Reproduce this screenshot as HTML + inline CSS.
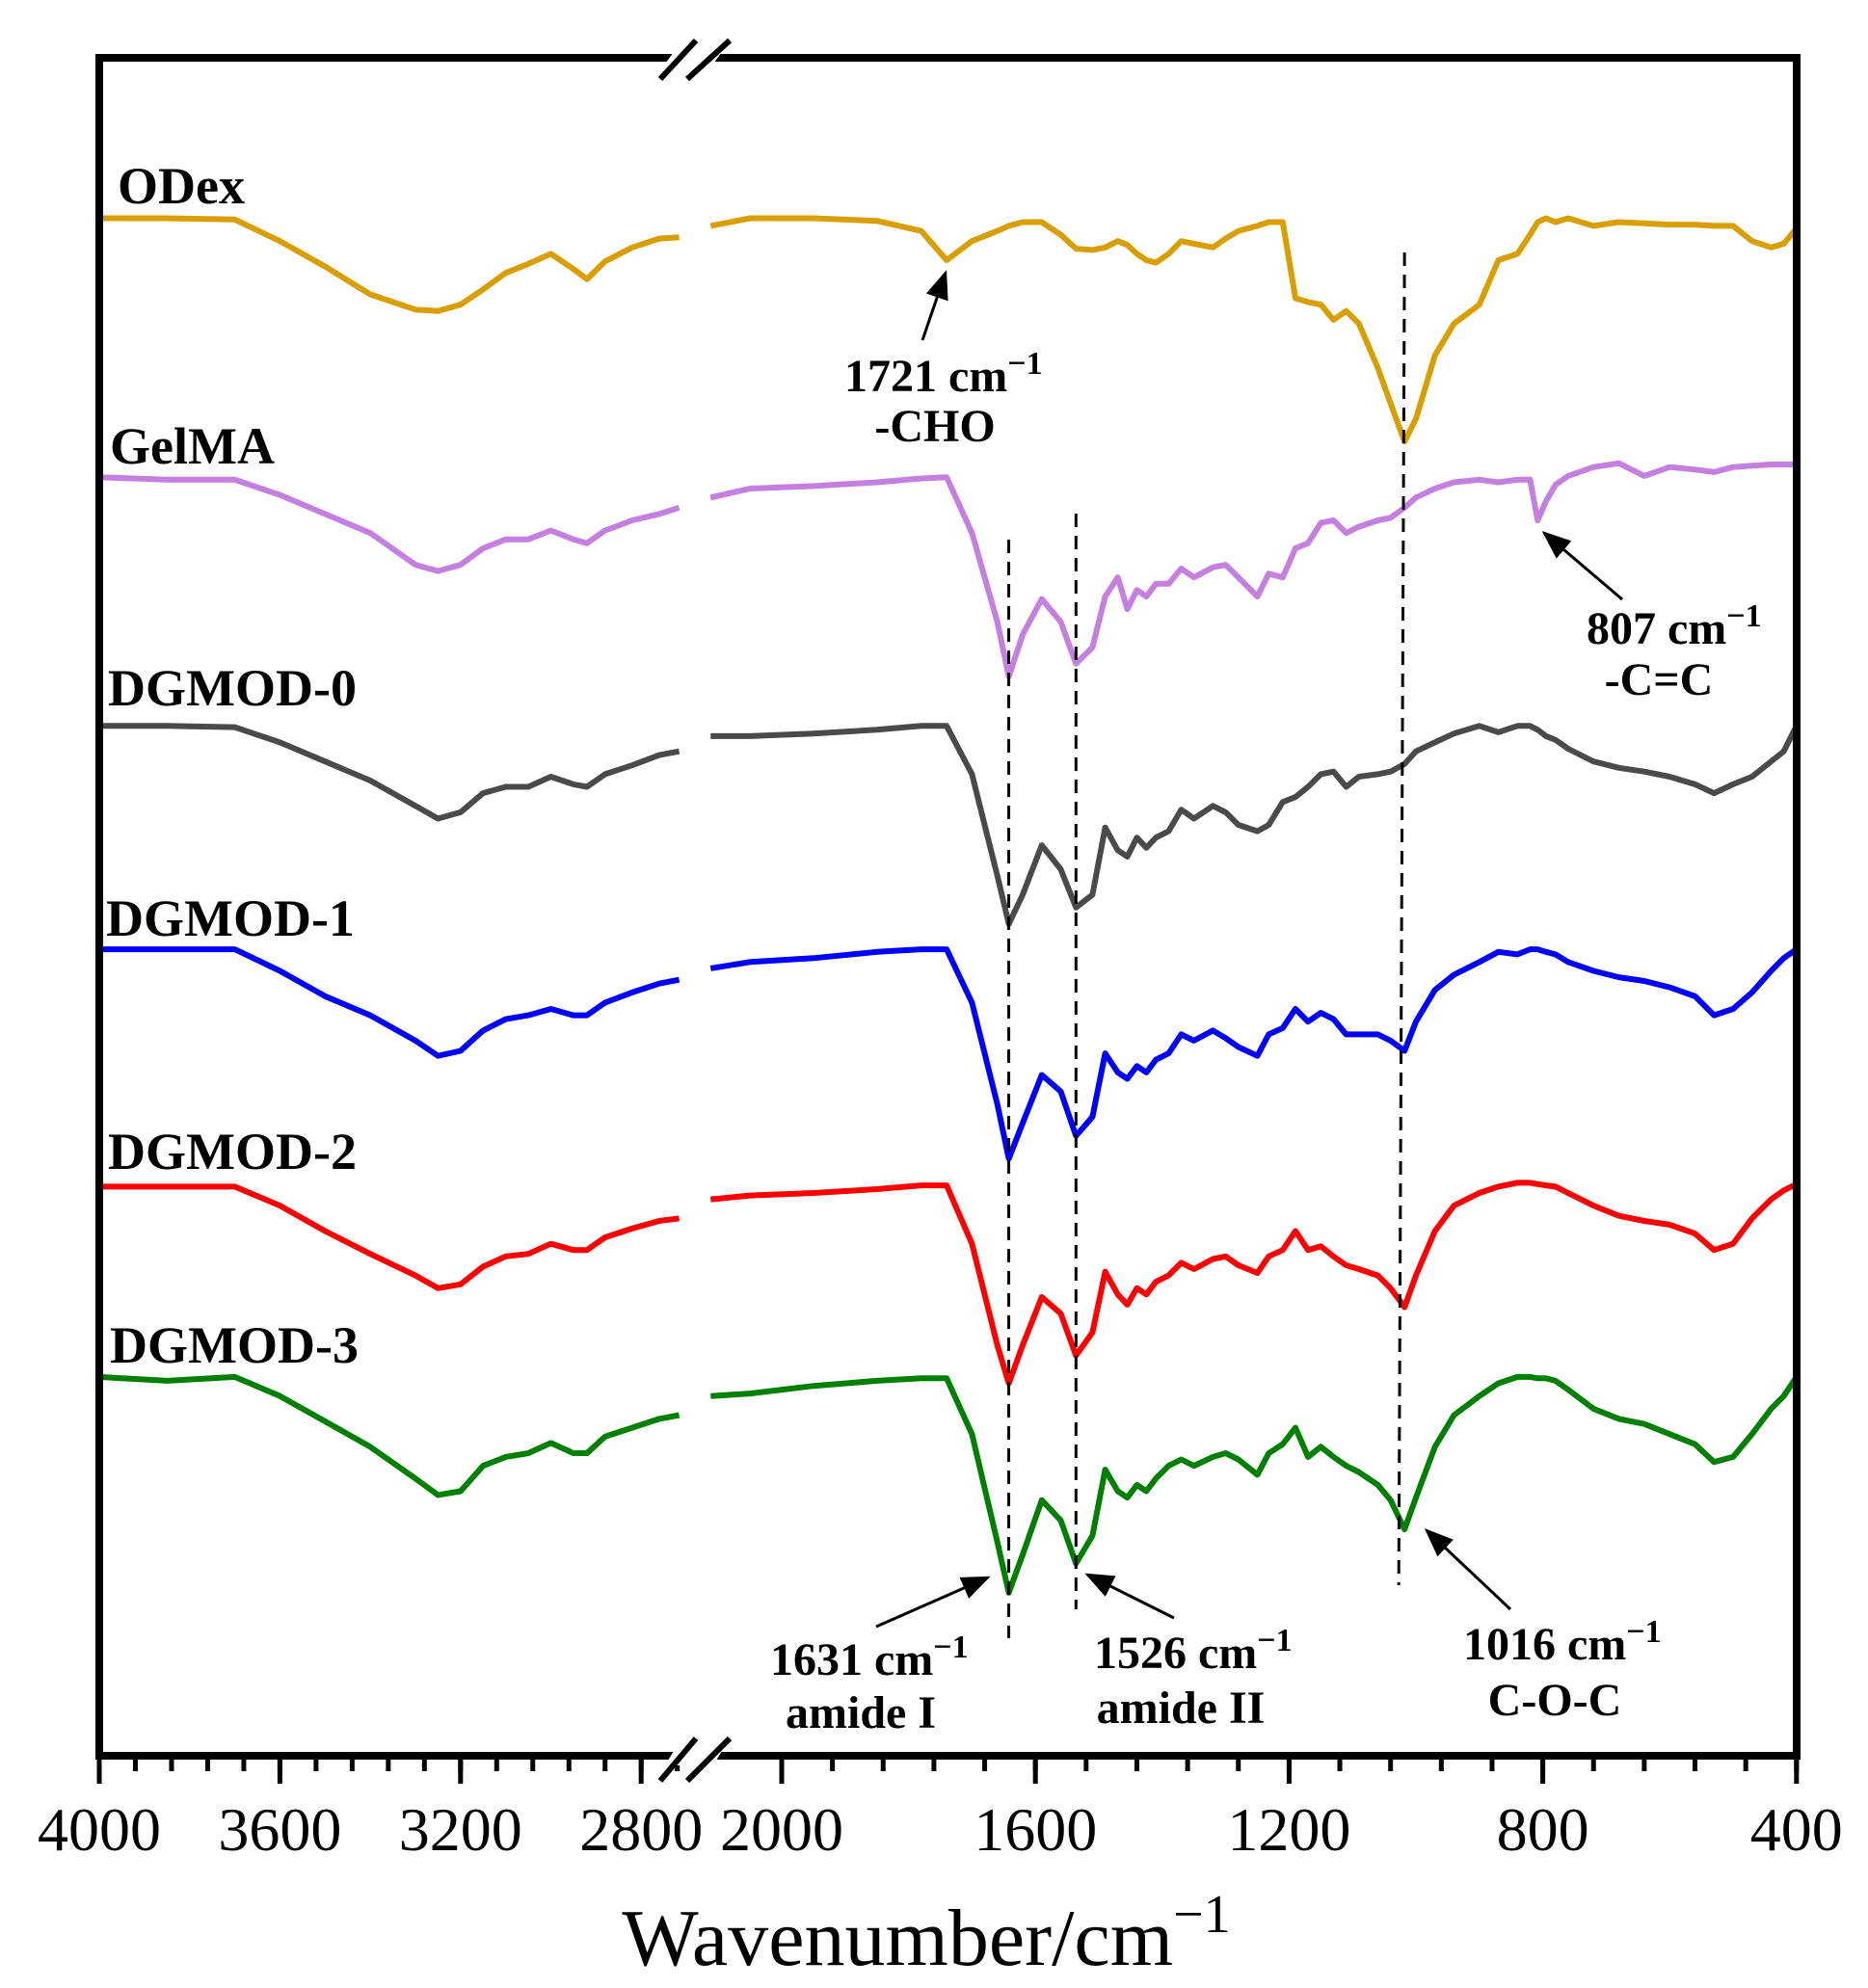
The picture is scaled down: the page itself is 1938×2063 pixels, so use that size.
<!DOCTYPE html>
<html><head><meta charset="utf-8"><style>
html,body{margin:0;padding:0;background:#fff}
svg{display:block}
text{font-family:"Liberation Serif",serif}
</style></head><body>
<svg id="chart" width="1938" height="2063" viewBox="0 0 1938 2063" xmlns="http://www.w3.org/2000/svg">
<g id="plot"></g>
<g id="frame"></g>
<g id="annot"></g>
</svg>
<script>
const leftWn = [4000,3850,3700,3600,3500,3400,3300,3250,3200,3150,3100,3050,3000,2950,2920,2880,2820,2760,2716];
const rightWn = [2112,2050,1950,1850,1780,1740,1700,1660,1642,1620,1590,1560,1536,1510,1490,1470,1455,1440,1425,1410,1390,1370,1350,1320,1300,1280,1250,1232,1210,1190,1170,1150,1130,1110,1090,1060,1040,1018,1000,970,940,900,870,840,820,808,795,780,760,720,680,640,600,560,530,500,470,440,420,400];
const seriesNames = ["ODex","GelMA","DGMOD-0","DGMOD-1","DGMOD-2","DGMOD-3"];
const seriesColors = ["#d99e00","#c47fe0","#4a4a4a","#0000ff","#ff0000","#008000"];
// offset transmittance (a.u., downward)
const odexL = [172,172,173,190,210,232,244,245,240,228,215,208,200,212,220,206,195,188,187];
const odexR = [178,172,172,174,182,205,190,182,178,175,175,185,196,197,195,190,193,200,205,207,200,190,192,195,188,182,178,175,175,235,238,240,252,245,255,290,318,348,330,280,255,240,205,200,185,175,172,175,172,178,175,176,177,177,178,178,190,195,192,180];
const gelmaL = [376,378,378,390,405,420,445,450,445,432,425,425,418,425,428,418,410,405,400];
const gelmaR = [392,385,383,380,377,376,420,490,533,500,472,490,523,510,470,455,480,465,470,460,460,448,455,447,445,455,470,452,455,432,428,412,410,420,415,410,408,400,392,385,380,378,380,378,378,410,395,382,375,368,365,375,368,370,372,368,367,366,366,366];
const d0L = [572,572,573,585,600,615,635,645,640,625,620,620,612,618,620,610,603,595,592];
const d0R = [580,580,578,575,572,572,610,690,728,705,666,685,715,705,652,670,675,660,668,660,655,638,645,635,640,650,655,650,632,628,620,610,608,620,612,610,608,602,592,585,578,572,577,572,572,575,580,583,590,600,605,608,612,618,625,618,612,600,592,572];
const d1L = [748,748,748,765,785,800,820,832,828,812,803,800,795,800,800,790,782,775,772];
const d1R = [763,758,755,750,748,748,790,870,913,885,847,860,895,880,830,845,850,840,845,835,830,815,820,812,818,825,832,815,810,795,805,798,803,815,815,815,820,828,805,780,768,758,750,752,748,748,750,752,758,765,770,773,778,785,800,795,782,765,755,748];
const d2L = [935,935,935,950,970,988,1005,1015,1012,998,990,988,980,985,985,975,968,962,960];
const d2R = [945,942,940,937,934,934,980,1060,1090,1060,1022,1035,1068,1050,1002,1020,1028,1015,1020,1010,1005,995,1000,992,990,997,1003,990,985,970,985,982,990,997,1000,1005,1015,1030,1005,970,950,940,935,932,932,933,934,935,940,950,958,962,965,972,985,980,960,945,938,933];
const d3L = [1085,1088,1085,1100,1120,1140,1165,1178,1175,1155,1148,1145,1137,1145,1145,1132,1125,1118,1115];
const d3R = [1100,1098,1092,1088,1086,1086,1130,1215,1255,1225,1182,1198,1232,1210,1158,1175,1180,1170,1175,1165,1155,1150,1155,1148,1145,1150,1162,1145,1138,1125,1148,1140,1148,1155,1160,1170,1182,1205,1180,1140,1115,1100,1090,1085,1085,1086,1086,1088,1095,1110,1118,1122,1130,1138,1152,1148,1130,1110,1100,1085];
const leftVals = [odexL,gelmaL,d0L,d1L,d2L,d3L];
const rightVals = [odexR,gelmaR,d0R,d1R,d2R,d3R];
const tickValues = [4000,3600,3200,2800,2000,1600,1200,800,400];
const tickLabels = ["4000","3600","3200","2800","2000","1600","1200","800","400"];

const NS="http://www.w3.org/2000/svg";
function xs(w){ return w>=2700 ? 103+(4000-w)*0.4685 : 811+(2000-w)*0.658; }
function ys(v){ return v*1.317; }
function mk(tag,attrs,parent){const e=document.createElementNS(NS,tag);for(const k in attrs)e.setAttribute(k,attrs[k]);parent.appendChild(e);return e;}
const plot=document.getElementById('plot'), frame=document.getElementById('frame'), annot=document.getElementById('annot');

// dashed guide lines
[[1642,560,1700],[1536,533,1670],[1018,262,1645]].forEach((d,i)=>{
  const l=mk('line',{x1:xs(d[0]),y1:d[1],x2:xs(d[0])-(i==2?6:0),y2:d[2],stroke:'#000','stroke-width':3,'stroke-dasharray':'14,9'},annot);
  
  
});

for(let s=0;s<6;s++){
  [[leftWn,leftVals[s]],[rightWn,rightVals[s]]].forEach(([wn,vals])=>{
    const d=wn.map((w,i)=>(i?'L':'M')+xs(w).toFixed(1)+','+ys(vals[i]).toFixed(1)).join(' ');
    const p=mk('path',{d:d,fill:'none',stroke:seriesColors[s],'stroke-width':6,'stroke-linejoin':'round'},plot);
    
    
  });
}

// frame
const fr=mk('rect',{x:103,y:60,width:1761,height:1762,fill:'none',stroke:'#000','stroke-width':8},frame);


for(let w=4000;w>=2720;w-=80){const t=mk('line',{x1:xs(w),y1:1822,x2:xs(w),y2:1838,stroke:'#000','stroke-width':5},frame);
  
  }
for(let w=2000;w>=400;w-=80){const t=mk('line',{x1:xs(w),y1:1822,x2:xs(w),y2:1838,stroke:'#000','stroke-width':5},frame);
  
  }
tickValues.forEach((w,i)=>{
  const t=mk('line',{x1:xs(w),y1:1822,x2:xs(w),y2:1851,stroke:'#000','stroke-width':5},frame);
  
  
  const tx=mk('text',{x:xs(w),y:1920,'text-anchor':'middle','font-size':64},frame);
  tx.textContent=tickLabels[i];
  
  
});
[[82,42],[1848,1804]].forEach(b=>{
  const g=mk('g',{},frame);
  
  
  mk('polygon',{points:`690,${b[0]-16} 740,${b[0]-16} 752,${b[1]+8} 702,${b[1]+8}`,fill:'#fff'},g);
  mk('line',{x1:685,y1:b[0],x2:722,y2:b[1],stroke:'#000','stroke-width':6},g);
  mk('line',{x1:713,y1:b[0],x2:757,y2:b[1],stroke:'#000','stroke-width':6},g);
});
</script>
<svg style="position:absolute;left:0;top:0" width="1938" height="2063" xmlns="http://www.w3.org/2000/svg">
<defs><marker id="ah" markerWidth="10" markerHeight="8" refX="9" refY="4" orient="auto" markerUnits="strokeWidth"><path d="M0,0 L10,4 L0,8 z" fill="#000"/></marker></defs>
<g font-family="Liberation Serif, serif" font-weight="bold" font-size="54">
<text x="122" y="211">ODex</text>
<text x="114" y="481">GelMA</text>
<text x="112" y="732">DGMOD-0</text>
<text x="110" y="971">DGMOD-1</text>
<text x="112" y="1213">DGMOD-2</text>
<text x="114" y="1414">DGMOD-3</text>
</g>
<g stroke="#000" stroke-width="3" marker-end="url(#ah)">
<line x1="957" y1="353" x2="981" y2="283"/>
<line x1="1683" y1="622" x2="1602" y2="553"/>
<line x1="909" y1="1688" x2="1025" y2="1637"/>
<line x1="1218" y1="1679" x2="1128" y2="1634"/>
<line x1="1567" y1="1670" x2="1480" y2="1588"/>
</g>
<g font-family="Liberation Serif, serif" font-weight="bold" font-size="48">
<text x="876" y="406">1721 cm<tspan dy="-18" font-size="34">−1</tspan></text>
<text x="970" y="458" text-anchor="middle">-CHO</text>
<text x="1646" y="668">807 cm<tspan dy="-18" font-size="34">−1</tspan></text>
<text x="1721" y="721" text-anchor="middle">-C=C</text>
<text x="799" y="1738">1631 cm<tspan dy="-18" font-size="34">−1</tspan></text>
<text x="893" y="1793" text-anchor="middle">amide I</text>
<text x="1135" y="1731">1526 cm<tspan dy="-18" font-size="34">−1</tspan></text>
<text x="1225" y="1788" text-anchor="middle">amide II</text>
<text x="1518" y="1722">1016 cm<tspan dy="-18" font-size="34">−1</tspan></text>
<text x="1613" y="1780" text-anchor="middle">C-O-C</text>
</g>
<text x="961" y="2039" text-anchor="middle" font-family="Liberation Serif, serif" font-size="84">Wavenumber/cm<tspan dy="-34" font-size="56">−1</tspan></text>
</svg>
</body></html>
